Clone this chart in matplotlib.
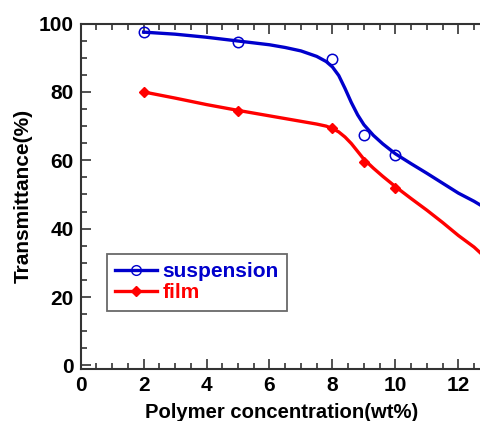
import matplotlib.pyplot as plt
from matplotlib.lines import Line2D
from matplotlib.ticker import MultipleLocator

# measured points
conc = [2, 5, 8, 9, 10]
suspension = [97.5, 94.5, 89.5, 67.5, 61.5]
film = [80, 74.5, 69.5, 59.5, 52]

# smooth fitted curves
curve_x = [2, 3, 4, 5, 6, 6.5, 7, 7.5, 7.8, 8, 8.2, 8.4, 8.6, 8.8, 9, 9.3, 9.6, 10, 10.5, 11, 11.5, 12, 12.5, 12.9]
curve_susp = [97.5, 96.9, 96.0, 94.9, 93.8, 93.0, 92.0, 90.4, 88.9, 87.3, 84.8, 81.0, 76.9, 73.3, 70.4, 67.3, 64.8, 61.9, 59.0, 56.2, 53.3, 50.4, 48.0, 45.8]
curve_film = [80, 78.2, 76.3, 74.6, 73.0, 72.2, 71.4, 70.6, 70.0, 69.3, 68.3, 66.8, 64.9, 62.6, 60.3, 57.7, 55.3, 52.3, 48.8, 45.4, 41.8, 38.0, 34.6, 31.2]

blue = '#0000cc'
red = '#ff0000'

fig = plt.figure(figsize=(4.8, 4.21), dpi=100)
ax = fig.add_axes([0.168, 0.124, 0.9115, 0.82])

ax.plot(curve_x, curve_susp, color=blue, lw=2.4)
ax.plot(curve_x, curve_film, color=red, lw=2.4)
ax.plot(conc, suspension, 'o', mfc='none', mec=blue, mew=1.1, ms=7.5)
ax.plot(conc, film, 'D', color=red, ms=5.5)

ax.set_xlim(0, 13.9)
ax.set_ylim(-1, 100)
ax.xaxis.set_major_locator(MultipleLocator(2))
ax.xaxis.set_minor_locator(MultipleLocator(0.5))
ax.yaxis.set_major_locator(MultipleLocator(20))
ax.yaxis.set_minor_locator(MultipleLocator(5))
ax.tick_params(which='both', direction='in', top=True, right=False, width=1.2, color='#333333')
ax.tick_params(which='major', length=7, pad=5)
ax.tick_params(which='minor', length=4)
for s in ax.spines.values():
    s.set_linewidth(1.5)
    s.set_color('#333333')
ax.spines['right'].set_visible(False)

for lab in ax.get_xticklabels() + ax.get_yticklabels():
    lab.set_family('Liberation Sans')
    lab.set_fontweight('bold')
    lab.set_fontsize(15)

ax.set_xlabel('Polymer concentration(wt%)', fontsize=14.6, fontweight='bold', family='Liberation Sans')
ax.xaxis.set_label_coords(0.46, -0.1)
ax.set_ylabel('Transmittance(%)', fontsize=15, fontweight='bold', family='Liberation Sans', labelpad=4)

handles = [Line2D([], [], color=blue, lw=2.4, marker='o', mfc='none', mec=blue, ms=7),
           Line2D([], [], color=red, lw=2.4, marker='D', ms=5.5)]
leg = ax.legend(handles, ['suspension', 'film'], loc='upper left', bbox_to_anchor=(107 / 480, 1 - 254 / 421),
                bbox_transform=fig.transFigure, frameon=True, fancybox=False, numpoints=1,
                handlelength=2.0, handletextpad=0.25, borderpad=0.4, labelspacing=0.1, borderaxespad=0,
                prop={'family': 'Liberation Sans', 'weight': 'bold', 'size': 15})
leg.get_frame().set_edgecolor('#444444')
leg.get_frame().set_linewidth(1.3)
for t, c in zip(leg.get_texts(), [blue, red]):
    t.set_color(c)

fig.savefig('out.png', dpi=100)
